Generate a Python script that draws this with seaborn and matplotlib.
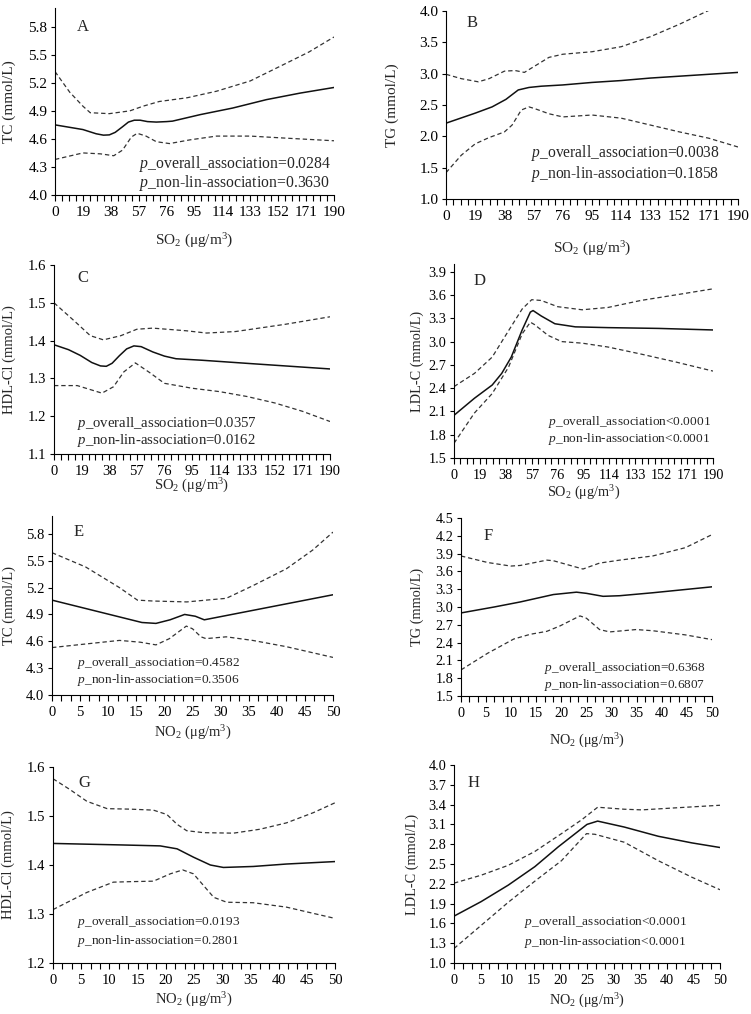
import numpy as np
import pandas as pd
import matplotlib
matplotlib.use("Agg")
import matplotlib.pyplot as plt
from matplotlib.ticker import FixedLocator, FormatStrFormatter
import seaborn as sns

# ---------------- data ----------------
A_mid_x = [0, 19, 28, 33, 37, 41, 46, 50, 54, 58, 63, 69, 76, 80, 99, 121, 144, 167, 190]
A_mid = [4.75, 4.70, 4.655, 4.64, 4.643, 4.67, 4.73, 4.78, 4.80, 4.80, 4.785, 4.78, 4.785, 4.79, 4.86, 4.93, 5.02, 5.09, 5.15]
A_up_x = [0, 10, 19, 24, 37, 51, 60, 71, 90, 110, 133, 155, 173, 190]
A_up = [5.32, 5.10, 4.95, 4.88, 4.87, 4.90, 4.95, 5.00, 5.04, 5.11, 5.22, 5.39, 5.53, 5.69]
A_lo_x = [0, 19, 31, 40, 46, 52, 56, 62, 69, 78, 92, 110, 133, 155, 190]
A_lo = [4.38, 4.45, 4.44, 4.42, 4.48, 4.62, 4.66, 4.63, 4.57, 4.55, 4.59, 4.63, 4.63, 4.61, 4.58]

B_mid_x = [0, 19, 30, 39, 47, 54, 62, 76, 95, 114, 133, 152, 171, 190]
B_mid = [2.21, 2.37, 2.47, 2.59, 2.74, 2.78, 2.80, 2.82, 2.86, 2.89, 2.93, 2.96, 2.99, 3.02]
B_up_x = [0, 10, 21, 28, 38, 45, 51, 57, 67, 76, 95, 114, 133, 152, 171, 190]
B_up = [2.99, 2.92, 2.87, 2.92, 3.04, 3.05, 3.02, 3.11, 3.26, 3.31, 3.35, 3.43, 3.59, 3.79, 4.01, 4.22]
B_lo_x = [0, 10, 19, 28, 38, 43, 49, 54, 58, 67, 76, 95, 114, 133, 152, 171, 190]
B_lo = [1.42, 1.70, 1.88, 1.98, 2.07, 2.18, 2.42, 2.47, 2.44, 2.36, 2.31, 2.34, 2.29, 2.18, 2.07, 1.97, 1.83]

C_mid_x = [0, 10, 18, 26, 32, 36, 40, 45, 50, 55, 60, 68, 76, 84, 102, 136, 190]
C_mid = [1.389, 1.376, 1.361, 1.342, 1.333, 1.332, 1.340, 1.360, 1.378, 1.386, 1.384, 1.370, 1.359, 1.352, 1.348, 1.339, 1.325]
C_up_x = [0, 14, 25, 34, 46, 57, 68, 91, 105, 125, 159, 190]
C_up = [1.500, 1.452, 1.413, 1.402, 1.413, 1.430, 1.433, 1.426, 1.420, 1.424, 1.443, 1.463]
C_lo_x = [0, 16, 33, 41, 48, 56, 66, 76, 95, 114, 133, 152, 171, 190]
C_lo = [1.281, 1.281, 1.261, 1.278, 1.317, 1.341, 1.315, 1.287, 1.274, 1.265, 1.252, 1.235, 1.213, 1.186]

D_mid_x = [0, 15, 28, 35, 42, 50, 56, 58, 64, 74, 89, 113, 150, 190]
D_mid = [2.05, 2.27, 2.44, 2.59, 2.80, 3.15, 3.38, 3.40, 3.33, 3.23, 3.19, 3.18, 3.17, 3.15]
D_up_x = [0, 15, 28, 40, 50, 57, 64, 76, 94, 113, 137, 162, 190]
D_up = [2.42, 2.59, 2.80, 3.14, 3.42, 3.54, 3.53, 3.45, 3.41, 3.44, 3.53, 3.60, 3.68]
D_lo_x = [0, 15, 28, 40, 50, 56, 59, 69, 79, 94, 113, 137, 162, 190]
D_lo = [1.69, 2.08, 2.33, 2.67, 3.10, 3.25, 3.22, 3.08, 3.00, 2.98, 2.93, 2.84, 2.74, 2.62]

E_mid_x = [0, 16, 18.5, 21, 23.6, 25.5, 27.1, 50]
E_mid = [5.06, 4.81, 4.80, 4.84, 4.90, 4.88, 4.84, 5.12]
E_up_x = [0, 6, 12, 15.2, 18, 24, 27.4, 31, 35.7, 41.7, 46.4, 50]
E_up = [5.59, 5.43, 5.20, 5.06, 5.05, 5.04, 5.06, 5.08, 5.22, 5.41, 5.62, 5.82]
E_lo_x = [0, 6, 12, 15.7, 18.5, 20.9, 23.9, 25, 26.5, 27.4, 31, 35.7, 41.7, 50]
E_lo = [4.53, 4.57, 4.61, 4.59, 4.56, 4.63, 4.77, 4.74, 4.65, 4.63, 4.65, 4.61, 4.54, 4.42]

F_mid_x = [0, 6.6, 11.8, 18.4, 23, 25, 28.3, 31.6, 38.2, 50]
F_mid = [2.90, 3.00, 3.085, 3.21, 3.25, 3.23, 3.18, 3.19, 3.24, 3.34]
F_up_x = [0, 5.3, 9.9, 11.8, 17.1, 18.4, 24.3, 27.6, 31.6, 38.2, 44.7, 50]
F_up = [3.86, 3.75, 3.69, 3.70, 3.79, 3.78, 3.64, 3.74, 3.79, 3.86, 4.00, 4.22]
F_lo_x = [0, 5.3, 10.5, 13.8, 17.1, 19.7, 23.7, 25, 27.6, 29.6, 34.9, 38.2, 44.7, 50]
F_lo = [1.94, 2.22, 2.46, 2.54, 2.59, 2.68, 2.85, 2.81, 2.62, 2.58, 2.62, 2.60, 2.53, 2.45]

G_mid_x = [0, 11.9, 19, 22, 24.9, 27.9, 30.2, 35.5, 41.4, 50]
G_mid = [1.444, 1.441, 1.439, 1.433, 1.416, 1.400, 1.395, 1.397, 1.402, 1.407]
G_up_x = [0, 3, 6, 9.6, 13.7, 17.8, 20.2, 22, 23.7, 26.7, 32, 36.7, 41.4, 46.2, 50]
G_up = [1.576, 1.554, 1.530, 1.515, 1.514, 1.512, 1.503, 1.483, 1.470, 1.466, 1.465, 1.473, 1.486, 1.507, 1.527]
G_lo_x = [0, 6, 10.7, 13.7, 17.8, 20.8, 23, 24.9, 26.7, 28.5, 30.8, 35.5, 41.4, 50]
G_lo = [1.309, 1.344, 1.365, 1.366, 1.367, 1.382, 1.390, 1.382, 1.358, 1.334, 1.324, 1.323, 1.314, 1.291]

H_mid_x = [0, 5.1, 10.2, 15.2, 19.6, 25, 27, 32, 38.4, 44.7, 50]
H_mid = [1.71, 1.93, 2.18, 2.46, 2.76, 3.10, 3.15, 3.06, 2.92, 2.82, 2.75]
H_up_x = [0, 5.1, 10.2, 15.2, 20.2, 24, 27, 32, 35.3, 41.5, 50]
H_up = [2.21, 2.33, 2.48, 2.69, 2.96, 3.17, 3.36, 3.33, 3.32, 3.35, 3.39]
H_lo_x = [0, 5.1, 10.2, 15.2, 20.2, 24.9, 26.5, 32, 38.4, 44.7, 50]
H_lo = [1.22, 1.57, 1.92, 2.24, 2.55, 2.96, 2.95, 2.83, 2.55, 2.30, 2.11]

panel_letters = ["A", "B", "C", "D", "E", "F", "G", "H"]
y_labels = ["TC (mmol/L)", "TG (mmol/L)", "HDL-Cl (mmol/L)", "LDL-C (mmol/L)",
            "TC (mmol/L)", "TG (mmol/L)", "HDL-Cl (mmol/L)", "LDL-C (mmol/L)"]
x_labels = ["SO$_2$ (μg/m$^3$)"] * 4 + ["NO$_2$ (μg/m$^3$)"] * 4
p_overall = ["=0.0284", "=0.0038", "=0.0357", "<0.0001", "=0.4582", "=0.6368", "=0.0193", "<0.0001"]
p_nonlin = ["=0.3630", "=0.1858", "=0.0162", "<0.0001", "=0.3506", "=0.6807", "=0.2801", "<0.0001"]
so2_ticks = [0, 19, 38, 57, 76, 95, 114, 133, 152, 171, 190]
no2_ticks = [0, 5, 10, 15, 20, 25, 30, 35, 40, 45, 50]
y_ticks = [
    [4.0, 4.3, 4.6, 4.9, 5.2, 5.5, 5.8],
    [1.0, 1.5, 2.0, 2.5, 3.0, 3.5, 4.0],
    [1.1, 1.2, 1.3, 1.4, 1.5, 1.6],
    [1.5, 1.8, 2.1, 2.4, 2.7, 3.0, 3.3, 3.6, 3.9],
    [4.0, 4.3, 4.6, 4.9, 5.2, 5.5, 5.8],
    [1.5, 1.8, 2.1, 2.4, 2.7, 3.0, 3.3, 3.6, 3.9, 4.2, 4.5],
    [1.2, 1.3, 1.4, 1.5, 1.6],
    [1.0, 1.3, 1.6, 1.9, 2.2, 2.5, 2.8, 3.1, 3.4, 3.7, 4.0],
]
y_top = [6.0, 4.0, 1.6, 4.0, 6.0, 4.5, 1.6, 4.0]

series = [
    (A_mid_x, A_mid, A_up_x, A_up, A_lo_x, A_lo),
    (B_mid_x, B_mid, B_up_x, B_up, B_lo_x, B_lo),
    (C_mid_x, C_mid, C_up_x, C_up, C_lo_x, C_lo),
    (D_mid_x, D_mid, D_up_x, D_up, D_lo_x, D_lo),
    (E_mid_x, E_mid, E_up_x, E_up, E_lo_x, E_lo),
    (F_mid_x, F_mid, F_up_x, F_up, F_lo_x, F_lo),
    (G_mid_x, G_mid, G_up_x, G_up, G_lo_x, G_lo),
    (H_mid_x, H_mid, H_up_x, H_up, H_lo_x, H_lo),
]

# ---------------- layout (pixel boxes: left, right, top, bottom) ----------------
W, H = 751, 1014
boxes = [(55, 334, 8, 195), (446, 738, 11, 199),
         (54, 330, 265, 454), (454, 713, 264, 458),
         (52, 333, 516, 695), (461, 712, 518, 696),
         (53, 335, 767, 963), (454, 720, 765, 963)]
letter_pos = [(0.10, 0.90), (0.09, 0.935), (0.105, 0.93), (0.10, 0.912),
              (0.096, 0.91), (0.107, 0.90), (0.113, 0.918), (0.075, 0.909)]
ptext_pos = [(0.30, 0.166, 0.064), (0.29, 0.245, 0.133), (0.083, 0.162, 0.072), (0.363, 0.185, 0.098),
             (0.089, 0.177, 0.082), (0.33, 0.158, 0.063), (0.085, 0.207, 0.114), (0.263, 0.205, 0.108)]
ptext_fs = [11.3, 11.2, 10.6, 9.6, 9.6, 9.5, 9.6, 9.6]
tick_fs = [11.0, 11.0, 10.5, 10.3, 10.5, 10.3, 10.5, 10.3]
ylabel_x = [-0.140, -0.161, -0.138, -0.116, -0.128, -0.147, -0.135, -0.132]
xlabel_y = [-0.198, -0.218, -0.118, -0.134, -0.162, -0.199, -0.143, -0.146]

sns.set_style("ticks")
plt.rcParams['font.family'] = ['Liberation Serif', 'DejaVu Serif']
plt.rcParams['mathtext.fontset'] = 'custom'
plt.rcParams['mathtext.rm'] = 'Liberation Serif'
plt.rcParams['mathtext.it'] = 'Liberation Serif:italic'
plt.rcParams['axes.linewidth'] = 0.8

fig = plt.figure(figsize=(W / 100, H / 100), dpi=100)
for i in range(8):
    fs = tick_fs[i]
    l, r, t, b = boxes[i]
    ax = fig.add_axes([l / W, 1 - b / H, (r - l) / W, (b - t) / H])
    mx, my, ux, uy, lx, ly = series[i]
    sns.lineplot(x=mx, y=my, ax=ax, color="#111111", lw=1.1, sort=False)
    sns.lineplot(x=ux, y=uy, ax=ax, color="#333333", lw=0.9, sort=False)
    sns.lineplot(x=lx, y=ly, ax=ax, color="#333333", lw=0.9, sort=False)
    for ln in ax.lines[1:]:
        ln.set_linestyle((0, (3.5, 2.3)))
    is_so2 = i < 4
    xmax = 190 if is_so2 else 50
    ax.set_xlim(0, xmax)
    ax.set_ylim(y_ticks[i][0], y_top[i])
    ax.xaxis.set_major_locator(FixedLocator(so2_ticks if is_so2 else no2_ticks))
    minor = np.arange(0, 40 + 1) * 4.75 if is_so2 else np.arange(0, 30 + 1) * (5 / 3)
    ax.xaxis.set_minor_locator(FixedLocator(minor))
    ax.yaxis.set_major_locator(FixedLocator(y_ticks[i]))
    ax.yaxis.set_major_formatter(FormatStrFormatter("%.1f"))
    ax.tick_params(axis="x", which="both", length=4, width=0.8, direction="out", pad=4,
                   labelsize=fs, colors="black")
    ax.tick_params(axis="y", which="major", length=3, width=0.8, direction="out", pad=2.5,
                   labelsize=fs, colors="black")
    sns.despine(ax=ax)
    for s in ("left", "bottom"):
        ax.spines[s].set_color("black")
    ax.set_xlabel(x_labels[i], fontsize=fs)
    ax.set_ylabel(y_labels[i], fontsize=fs)
    ax.xaxis.set_label_coords(0.5, xlabel_y[i])
    ax.yaxis.set_label_coords(ylabel_x[i], 0.5)
    lx_, ly_ = letter_pos[i]
    ax.text(lx_, ly_, panel_letters[i], transform=ax.transAxes, fontsize=12,
            ha="center", va="center")
    px, p1, p2 = ptext_pos[i]
    ax.text(px, p1, r"$\mathit{p}$_overall_association" + p_overall[i], transform=ax.transAxes,
            fontsize=ptext_fs[i], ha="left", va="center")
    ax.text(px, p2, r"$\mathit{p}$_non-lin-association" + p_nonlin[i], transform=ax.transAxes,
            fontsize=ptext_fs[i], ha="left", va="center")

fig.savefig("out.png", dpi=100)
